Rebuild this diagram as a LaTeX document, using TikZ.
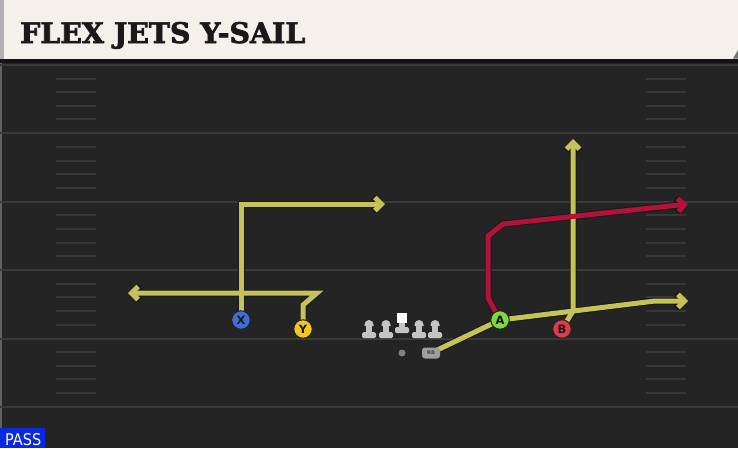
\documentclass[tikz,border=0pt]{standalone}
\usepackage{fontspec}
\usetikzlibrary{arrows.meta}
\newfontfamily\titlefont{DejaVu Serif}[BoldFeatures={FakeBold=2.5}]
\newfontfamily\labfont{DejaVu Sans}
\definecolor{bgc}{HTML}{242424}
\definecolor{yardc}{HTML}{3A3A3A}
\definecolor{hashc}{HTML}{383838}
\definecolor{headc}{HTML}{F4F1EA}
\definecolor{routey}{HTML}{C4C258}
\definecolor{router}{HTML}{B3123B}
\definecolor{xblue}{HTML}{3F6FD6}
\definecolor{yyel}{HTML}{F2C71E}
\definecolor{agreen}{HTML}{7FD744}
\definecolor{bred}{HTML}{E23A48}
\definecolor{linec}{HTML}{C4C4C4}
\definecolor{passblue}{HTML}{0A28E0}
\tikzset{
  yard/.style={draw=yardc, line width=2pt},
  hashmark/.style={draw=hashc, line width=2pt},
  rtout/.style={draw=black!90, line width=7pt, miter limit=10, -{Straight Barb[length=7pt,width=14pt]}},
  rtyel/.style={draw=routey, line width=5pt, miter limit=10, -{Straight Barb[length=6.5pt,width=13pt]}},
  rtred/.style={draw=router, line width=5pt, miter limit=10, -{Straight Barb[length=6.5pt,width=13pt]}},
  player/.style={circle, draw=black!85, line width=1pt, minimum size=18.5pt, inner sep=0pt,
    font=\labfont\bfseries\fontsize{11.5}{11.5}\selectfont, text=black!90},
  lineman/.pic={
    \fill[linec, rounded corners=1.5pt] (-7,-6) rectangle (7,0);
    \fill[linec] (-3,-14) rectangle (3,-5);
    \fill[linec] (-4.5,-13.5) arc (180:360:4.5) -- (4.5,-12) -- (-4.5,-12) -- cycle;
  },
}
\begin{document}
\begin{tikzpicture}[x=1pt,y=-1pt]
\useasboundingbox (0,0) rectangle (738,448);
\fill[bgc] (0,0) rectangle (738,448);
\draw[yardc!80, line width=2pt] (1,60) -- (1,448);
% yard lines
\foreach \yy in {65,133.4,201.8,270.2,338.6,407} {
  \draw[yard] (0,\yy) -- (738,\yy);
}
% hash marks
\foreach \bb in {65,133.4,201.8,270.2,338.6} {
  \foreach \k in {1,...,4} {
    \draw[hashmark] (56,\bb+13.6*\k) -- (96,\bb+13.6*\k);
    \draw[hashmark] (646,\bb+13.6*\k) -- (686,\bb+13.6*\k);
  }
}
% header
\fill[black!92] (0,57) rectangle (738,63);
\fill[headc] (0,0) rectangle (738,58.5);
\fill[black!30] (0,0) rectangle (4,58.5);
\fill[black!55] (733,58.5) -- (738,50) -- (738,58.5) -- cycle;
\node[anchor=base west, inner sep=0pt, text=black!90] (title) at (20,43)
  {\resizebox{285pt}{21pt}{\titlefont\bfseries FLEX JETS Y-SAIL}};
% PASS tag
\fill[passblue] (0,428) rectangle (45,448);
\node[anchor=base west, inner sep=0pt, text=white] (pass) at (5,445)
  {\resizebox{36pt}{12pt}{\labfont PASS}};
% players (positions)
\coordinate (Xp) at (241,320);
\coordinate (Yp) at (303,329);
\coordinate (Ap) at (500,320);
\coordinate (Bp) at (562,329);
\coordinate (RBp) at (431,353);
% route waypoints
\coordinate (x1) at (241,204);
\coordinate (x2) at (385,204);
\coordinate (y1) at (303,305);
\coordinate (y2) at (317,293);
\coordinate (y3) at (128,293);
\coordinate (a1) at (488,298);
\coordinate (a2) at (488,236);
\coordinate (a3) at (503,224);
\coordinate (a4) at (688,204);
\coordinate (b1) at (573,311);
\coordinate (b2) at (573,139);
\coordinate (r1) at (655,301);
\coordinate (r2) at (688,301);
% outlines
\draw[rtout] (Xp) -- (x1) -- (x2);
\draw[rtout] (Yp) -- (y1) -- (y2) -- (y3);
\draw[rtout] (Bp) -- (b1) -- (b2);
\draw[rtout] (RBp) -- (Ap) -- (r1) -- (r2);
\draw[rtout] (Ap) -- (a1) -- (a2) -- (a3) -- (a4);
% colored routes
\draw[rtyel] (Xp) -- (x1) -- (x2);
\draw[rtyel] (Yp) -- (y1) -- (y2) -- (y3);
\draw[rtyel] (Bp) -- (b1) -- (b2);
\draw[rtyel] (RBp) -- (Ap) -- (r1) -- (r2);
\draw[rtred] (Ap) -- (a1) -- (a2) -- (a3) -- (a4);
% offensive line
\foreach \lx in {369,386,419,435} {
  \pic at (\lx,338) {lineman};
}
\fill[linec, rounded corners=1.5pt] (395,327) rectangle (409,333);
\fill[linec] (399,321) rectangle (405,328);
\fill[white] (396.5,313) rectangle (406.5,323);
% QB and RB
\node[circle, fill=black!50, minimum size=7pt, inner sep=0pt] (QB) at (402,353) {};
\node[rounded corners=3pt, fill=black!38, minimum width=18pt, minimum height=11pt, inner sep=0pt,
  font=\labfont\bfseries\fontsize{5}{5}\selectfont, text=black!75] (RB) at (RBp) {RB};
% skill players
\node[player, fill=xblue] (X) at (Xp) {X};
\node[player, fill=yyel] (Y) at (Yp) {Y};
\node[player, fill=agreen] (A) at (Ap) {A};
\node[player, fill=bred] (B) at (Bp) {B};
\end{tikzpicture}
\end{document}
